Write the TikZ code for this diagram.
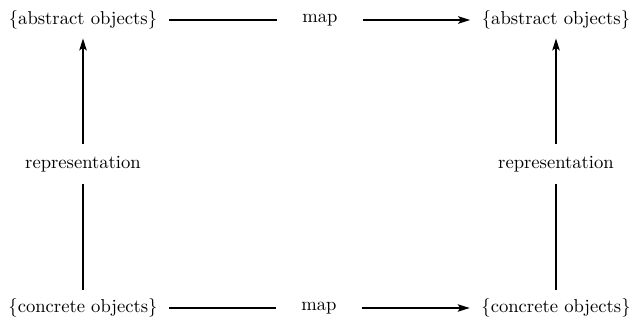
\documentclass[tikz,border=0pt]{standalone}
\usepackage{tikz}
\usetikzlibrary{positioning,arrows.meta}

\begin{document}
\begin{tikzpicture}[
  x=0.02cm, y=-0.02cm,
  every node/.style={font=\fontsize{10.6}{13}\selectfont},
  obj/.style={inner xsep=6.5pt, inner ysep=5pt},
  mapbox/.style={inner xsep=14pt},
  repbox/.style={inner ysep=6.5pt},
  ln/.style={line width=0.8pt},
  arr/.style={-{Stealth[length=2.4mm,width=1.5mm,inset=0.5mm]}, line width=0.8pt}
]
\useasboundingbox (0,0) rectangle (641,320);

% top row
\node[obj] (absL) at (83,20) {\{abstract objects\}};
\node[mapbox] (mapT) at (320,20) {map};
\node[obj] (absR) at (556,20) {\{abstract objects\}};

% middle
\node[repbox] (repL) at (83,164) {representation};
\node[repbox] (repR) at (556,164) {representation};

% bottom row
\node[obj] (conL) at (83,308) {\{concrete objects\}};
\node[mapbox] (mapB) at (319,308) {map};
\node[obj] (conR) at (556,308) {\{concrete objects\}};

\draw[ln] (absL) -- (mapT);
\draw[arr] (mapT) -- (absR);
\draw[ln] (conL) -- (mapB);
\draw[arr] (mapB) -- (conR);

\draw[ln] (conL) -- (repL);
\draw[arr] (repL) -- (absL);
\draw[ln] (conR) -- (repR);
\draw[arr] (repR) -- (absR);
\end{tikzpicture}
\end{document}
